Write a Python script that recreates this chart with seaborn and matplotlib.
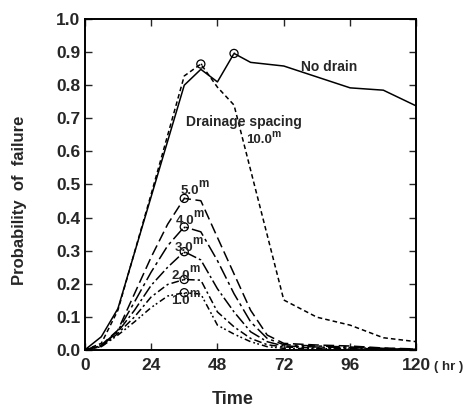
import numpy as np
import pandas as pd
import matplotlib
matplotlib.use("Agg")
import matplotlib.pyplot as plt
import seaborn as sns

# ---- data ----
t_nodrain = [0, 6, 12, 36, 42, 48, 54, 60, 72, 96, 108, 120]
p_nodrain = [0.0, 0.04, 0.125, 0.80, 0.848, 0.81, 0.896, 0.869, 0.858, 0.792, 0.785, 0.737]

t_10 = [0, 6, 12, 24, 36, 42, 48, 54, 72, 84, 96, 108, 120]
p_10 = [0.0, 0.02, 0.12, 0.47, 0.828, 0.864, 0.794, 0.74, 0.151, 0.099, 0.075, 0.037, 0.025]

t_drain = [0, 6, 12, 18, 24, 30, 36, 42, 48, 54, 60, 66, 72, 84, 96, 108, 120]
p_5 = [0.0, 0.015, 0.06, 0.17, 0.28, 0.38, 0.458, 0.451, 0.34, 0.23, 0.12, 0.045, 0.02, 0.015, 0.012, 0.006, 0.003]
p_4 = [0.0, 0.013, 0.058, 0.145, 0.235, 0.315, 0.372, 0.357, 0.27, 0.17, 0.085, 0.035, 0.016, 0.012, 0.009, 0.005, 0.002]
p_3 = [0.0, 0.012, 0.055, 0.12, 0.195, 0.25, 0.297, 0.272, 0.185, 0.115, 0.055, 0.025, 0.012, 0.009, 0.007, 0.004, 0.002]
p_2 = [0.0, 0.010, 0.05, 0.10, 0.16, 0.198, 0.213, 0.211, 0.115, 0.07, 0.035, 0.016, 0.009, 0.006, 0.005, 0.003, 0.001]
p_1 = [0.0, 0.010, 0.045, 0.085, 0.128, 0.163, 0.173, 0.169, 0.075, 0.048, 0.025, 0.010, 0.005, 0.004, 0.003, 0.002, 0.001]

x_ticks = [0, 24, 48, 72, 96, 120]
y_ticks = [0.0, 0.1, 0.2, 0.3, 0.4, 0.5, 0.6, 0.7, 0.8, 0.9, 1.0]

spacing_labels = ["5.0", "4.0", "3.0", "2.0", "1.0"]
spacing_values = [p_5, p_4, p_3, p_2, p_1]

# ---- style ----
sns.set_style("ticks")
plt.rcParams['font.family'] = ['Liberation Sans', 'DejaVu Sans']
plt.rcParams['font.weight'] = 'bold'

fig = plt.figure(figsize=(4.72, 4.09), dpi=100)
ax = fig.add_axes([0.1795, 0.1443, 0.7029, 0.8092])

lw = 1.1
sns.lineplot(x=t_nodrain, y=p_nodrain, ax=ax, color='black', linewidth=lw,
             linestyle='-', sort=False)
sns.lineplot(x=t_10, y=p_10, ax=ax, color='black', linewidth=lw,
             linestyle=(0, (3, 2)), sort=False)

styles = [(0, (7, 3)), (0, (9, 2.5, 2, 2.5)), (0, (8, 2, 1.5, 2)),
          (0, (5, 2, 1.5, 2)), (0, (4, 2, 1.2, 1.5, 1.2, 2))]
for vals, ls in zip(spacing_values, styles):
    sns.lineplot(x=t_drain, y=vals, ax=ax, color='black', linewidth=lw,
                 linestyle=ls, sort=False)

# peak markers
peak_x, peak_y = [], []
for tt, pp in [(t_nodrain, p_nodrain), (t_10, p_10)] + [(t_drain, v) for v in spacing_values]:
    i = int(np.argmax(pp))
    peak_x.append(tt[i]); peak_y.append(pp[i])
sns.scatterplot(x=peak_x, y=peak_y, ax=ax, s=34, facecolor='none',
                edgecolor='black', linewidth=0.9, zorder=5)
sns.scatterplot(x=peak_x, y=peak_y, ax=ax, s=2, color='black', zorder=6)

# labels on the chart
tfs = 10
ax.text(78.3, 0.856, "No drain", fontsize=tfs, fontweight='bold', va='center', ha='left')
ax.text(36.5, 0.69, "Drainage spacing", fontsize=tfs, fontweight='bold', va='center', ha='left')
ax.text(58.3, 0.634, "10.0", fontsize=tfs - 0.5, fontweight='bold', va='center', ha='left')
ax.text(67.6, 0.652, "m", fontsize=tfs - 2.5, fontweight='bold', va='center', ha='left')

lab_pos = [(34.6, 0.48), (33.0, 0.39), (32.7, 0.308), (31.4, 0.224), (31.4, 0.147)]
for lab, (lx, ly) in zip(spacing_labels, lab_pos):
    ax.text(lx, ly, lab, fontsize=tfs - 0.5, fontweight='bold', va='center', ha='left', zorder=7)
    ax.text(lx + 6.3, ly + 0.022, "m", fontsize=tfs - 1.5, fontweight='bold', va='center', ha='left', zorder=7)

# axes
ax.set_xlim(0, 120)
ax.set_ylim(0, 1.0)
ax.set_xticks(x_ticks)
ax.set_xticklabels([str(v) for v in x_ticks])
ax.set_yticks(y_ticks)
ax.set_yticklabels([f"{v:.1f}" for v in y_ticks])
ax.tick_params(direction='in', length=5, width=1.0, top=True, right=True,
               labelsize=12.5)
ax.tick_params(axis='y', pad=3)
ax.tick_params(axis='x', pad=6)
for lab in ax.get_xticklabels() + ax.get_yticklabels():
    lab.set_fontweight('bold')
for sp in ax.spines.values():
    sp.set_visible(True)
    sp.set_linewidth(1.4)
    sp.set_color('black')

ax.set_xlabel("Time", fontsize=13, fontweight='bold')
ax.set_ylabel("Probability  of  failure", fontsize=12, fontweight='bold')
ax.xaxis.set_label_coords(0.445, -0.125)
ax.yaxis.set_label_coords(-0.175, 0.453)

ax.text(1.052, -0.05, "( hr )", transform=ax.transAxes, fontsize=9.5,
        fontweight='bold', va='center', ha='left')

fig.savefig("out.png", dpi=100)
